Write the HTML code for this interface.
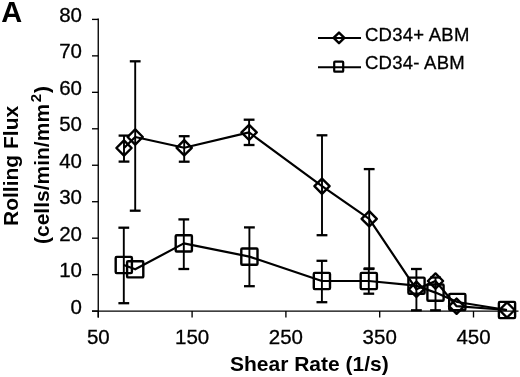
<!DOCTYPE html>
<html><head><meta charset="utf-8">
<style>
html,body{margin:0;padding:0;background:#fff;}
body{width:520px;height:377px;overflow:hidden;}
svg{display:block;will-change:transform;}
text{font-family:"Liberation Sans",sans-serif;fill:#000;}
.yl,.xl,.lg{stroke:#000;stroke-width:0.3px;}
.yl{font-size:20.5px;text-anchor:end;}
.xl{font-size:20.5px;text-anchor:middle;}
.lg{font-size:18.5px;letter-spacing:0.25px;}
.tt{font-size:21px;font-weight:bold;}
.sup{font-size:15px;}
.l2{letter-spacing:0.2px;}
.A{font-size:29px;font-weight:bold;}
</style></head>
<body>
<svg width="520" height="377" viewBox="0 0 520 377">
<rect width="520" height="377" fill="#fff"/>
<line x1="98.25" y1="18.599999999999998" x2="98.25" y2="317.5" stroke="#000" stroke-width="1.35"/>
<line x1="92" y1="311.1" x2="518.5" y2="311.1" stroke="#000" stroke-width="1.45"/>
<line x1="92" y1="311.10" x2="98.25" y2="311.10" stroke="#000" stroke-width="1.35"/>
<text x="82" y="313.50" class="yl">0</text>
<line x1="92" y1="274.64" x2="98.25" y2="274.64" stroke="#000" stroke-width="1.35"/>
<text x="82" y="277.04" class="yl">10</text>
<line x1="92" y1="238.18" x2="98.25" y2="238.18" stroke="#000" stroke-width="1.35"/>
<text x="82" y="240.58" class="yl">20</text>
<line x1="92" y1="201.71" x2="98.25" y2="201.71" stroke="#000" stroke-width="1.35"/>
<text x="82" y="204.11" class="yl">30</text>
<line x1="92" y1="165.25" x2="98.25" y2="165.25" stroke="#000" stroke-width="1.35"/>
<text x="82" y="167.65" class="yl">40</text>
<line x1="92" y1="128.79" x2="98.25" y2="128.79" stroke="#000" stroke-width="1.35"/>
<text x="82" y="131.19" class="yl">50</text>
<line x1="92" y1="92.32" x2="98.25" y2="92.32" stroke="#000" stroke-width="1.35"/>
<text x="82" y="94.72" class="yl">60</text>
<line x1="92" y1="55.86" x2="98.25" y2="55.86" stroke="#000" stroke-width="1.35"/>
<text x="82" y="58.26" class="yl">70</text>
<line x1="92" y1="19.40" x2="98.25" y2="19.40" stroke="#000" stroke-width="1.35"/>
<text x="82" y="21.80" class="yl">80</text>
<line x1="98.30" y1="311.1" x2="98.30" y2="317.5" stroke="#000" stroke-width="1.35"/>
<text x="98.30" y="344.3" class="xl">50</text>
<line x1="192.10" y1="311.1" x2="192.10" y2="317.5" stroke="#000" stroke-width="1.35"/>
<text x="192.10" y="344.3" class="xl">150</text>
<line x1="285.90" y1="311.1" x2="285.90" y2="317.5" stroke="#000" stroke-width="1.35"/>
<text x="285.90" y="344.3" class="xl">250</text>
<line x1="379.70" y1="311.1" x2="379.70" y2="317.5" stroke="#000" stroke-width="1.35"/>
<text x="379.70" y="344.3" class="xl">350</text>
<line x1="473.50" y1="311.1" x2="473.50" y2="317.5" stroke="#000" stroke-width="1.35"/>
<text x="473.50" y="344.3" class="xl">450</text>
<line x1="124.0" y1="135.6" x2="124.0" y2="161.6" stroke="#000" stroke-width="1.9"/>
<line x1="118.6" y1="135.6" x2="129.4" y2="135.6" stroke="#000" stroke-width="2.3"/>
<line x1="118.6" y1="161.6" x2="129.4" y2="161.6" stroke="#000" stroke-width="2.3"/>
<line x1="135.2" y1="61.3" x2="135.2" y2="210.7" stroke="#000" stroke-width="1.9"/>
<line x1="129.79999999999998" y1="61.3" x2="140.6" y2="61.3" stroke="#000" stroke-width="2.3"/>
<line x1="129.79999999999998" y1="210.7" x2="140.6" y2="210.7" stroke="#000" stroke-width="2.3"/>
<line x1="184.2" y1="136.2" x2="184.2" y2="161.7" stroke="#000" stroke-width="1.9"/>
<line x1="178.79999999999998" y1="136.2" x2="189.6" y2="136.2" stroke="#000" stroke-width="2.3"/>
<line x1="178.79999999999998" y1="161.7" x2="189.6" y2="161.7" stroke="#000" stroke-width="2.3"/>
<line x1="249.1" y1="119.7" x2="249.1" y2="145.0" stroke="#000" stroke-width="1.9"/>
<line x1="243.7" y1="119.7" x2="254.5" y2="119.7" stroke="#000" stroke-width="2.3"/>
<line x1="243.7" y1="145.0" x2="254.5" y2="145.0" stroke="#000" stroke-width="2.3"/>
<line x1="322.0" y1="135.3" x2="322.0" y2="235.2" stroke="#000" stroke-width="1.9"/>
<line x1="316.6" y1="135.3" x2="327.4" y2="135.3" stroke="#000" stroke-width="2.3"/>
<line x1="316.6" y1="235.2" x2="327.4" y2="235.2" stroke="#000" stroke-width="2.3"/>
<line x1="369.2" y1="169.1" x2="369.2" y2="268.5" stroke="#000" stroke-width="1.9"/>
<line x1="363.8" y1="169.1" x2="374.59999999999997" y2="169.1" stroke="#000" stroke-width="2.3"/>
<line x1="363.8" y1="268.5" x2="374.59999999999997" y2="268.5" stroke="#000" stroke-width="2.3"/>
<line x1="416.4" y1="269.0" x2="416.4" y2="310.3" stroke="#000" stroke-width="1.9"/>
<line x1="411.0" y1="269.0" x2="421.79999999999995" y2="269.0" stroke="#000" stroke-width="2.3"/>
<line x1="411.0" y1="310.3" x2="421.79999999999995" y2="310.3" stroke="#000" stroke-width="2.3"/>
<line x1="123.8" y1="227.7" x2="123.8" y2="303.2" stroke="#000" stroke-width="1.9"/>
<line x1="118.39999999999999" y1="227.7" x2="129.2" y2="227.7" stroke="#000" stroke-width="2.3"/>
<line x1="118.39999999999999" y1="303.2" x2="129.2" y2="303.2" stroke="#000" stroke-width="2.3"/>
<line x1="183.8" y1="219.4" x2="183.8" y2="269.0" stroke="#000" stroke-width="1.9"/>
<line x1="178.4" y1="219.4" x2="189.20000000000002" y2="219.4" stroke="#000" stroke-width="2.3"/>
<line x1="178.4" y1="269.0" x2="189.20000000000002" y2="269.0" stroke="#000" stroke-width="2.3"/>
<line x1="249.4" y1="227.4" x2="249.4" y2="286.2" stroke="#000" stroke-width="1.9"/>
<line x1="244.0" y1="227.4" x2="254.8" y2="227.4" stroke="#000" stroke-width="2.3"/>
<line x1="244.0" y1="286.2" x2="254.8" y2="286.2" stroke="#000" stroke-width="2.3"/>
<line x1="321.9" y1="260.8" x2="321.9" y2="302.2" stroke="#000" stroke-width="1.9"/>
<line x1="316.5" y1="260.8" x2="327.29999999999995" y2="260.8" stroke="#000" stroke-width="2.3"/>
<line x1="316.5" y1="302.2" x2="327.29999999999995" y2="302.2" stroke="#000" stroke-width="2.3"/>
<line x1="368.8" y1="269.0" x2="368.8" y2="293.7" stroke="#000" stroke-width="1.9"/>
<line x1="363.40000000000003" y1="269.0" x2="374.2" y2="269.0" stroke="#000" stroke-width="2.3"/>
<line x1="363.40000000000003" y1="293.7" x2="374.2" y2="293.7" stroke="#000" stroke-width="2.3"/>
<line x1="435.5" y1="277.5" x2="435.5" y2="310.3" stroke="#000" stroke-width="1.9"/>
<line x1="430.1" y1="277.5" x2="440.9" y2="277.5" stroke="#000" stroke-width="2.3"/>
<line x1="430.1" y1="310.3" x2="440.9" y2="310.3" stroke="#000" stroke-width="2.3"/>
<polyline points="124.0,148.0 135.2,137.0 184.2,147.8 249.1,132.4 322.0,186.2 369.2,218.8 416.4,289.3 435.5,281.0 456.6,306.2 507.0,310.0" fill="none" stroke="#000" stroke-width="2.2" stroke-linejoin="round"/>
<polyline points="123.8,265.0 135.2,269.3 183.8,243.4 249.4,256.6 321.9,281.0 368.8,281.0 416.5,285.7 435.5,292.6 457.3,302.0 507.0,310.0" fill="none" stroke="#000" stroke-width="2.2" stroke-linejoin="round"/>
<polygon points="116.4,148.0 124.0,140.4 131.6,148.0 124.0,155.6" fill="none" stroke="#000" stroke-width="2.4" stroke-linejoin="round"/>
<polygon points="127.6,137.0 135.2,129.4 142.79999999999998,137.0 135.2,144.6" fill="none" stroke="#000" stroke-width="2.4" stroke-linejoin="round"/>
<polygon points="176.6,147.8 184.2,140.20000000000002 191.79999999999998,147.8 184.2,155.4" fill="none" stroke="#000" stroke-width="2.4" stroke-linejoin="round"/>
<polygon points="241.5,132.4 249.1,124.80000000000001 256.7,132.4 249.1,140.0" fill="none" stroke="#000" stroke-width="2.4" stroke-linejoin="round"/>
<polygon points="314.4,186.2 322.0,178.6 329.6,186.2 322.0,193.79999999999998" fill="none" stroke="#000" stroke-width="2.4" stroke-linejoin="round"/>
<polygon points="361.59999999999997,218.8 369.2,211.20000000000002 376.8,218.8 369.2,226.4" fill="none" stroke="#000" stroke-width="2.4" stroke-linejoin="round"/>
<polygon points="408.79999999999995,289.3 416.4,281.7 424.0,289.3 416.4,296.90000000000003" fill="none" stroke="#000" stroke-width="2.4" stroke-linejoin="round"/>
<polygon points="427.9,281.0 435.5,273.4 443.1,281.0 435.5,288.6" fill="none" stroke="#000" stroke-width="2.4" stroke-linejoin="round"/>
<polygon points="449.0,306.2 456.6,298.59999999999997 464.20000000000005,306.2 456.6,313.8" fill="none" stroke="#000" stroke-width="2.4" stroke-linejoin="round"/>
<polygon points="499.4,310.0 507.0,302.4 514.6,310.0 507.0,317.6" fill="none" stroke="#000" stroke-width="2.4" stroke-linejoin="round"/>
<rect x="115.7" y="256.9" width="16.2" height="16.2" fill="none" stroke="#000" stroke-width="2.4" rx="1"/>
<rect x="127.1" y="261.2" width="16.2" height="16.2" fill="none" stroke="#000" stroke-width="2.4" rx="1"/>
<rect x="175.70000000000002" y="235.3" width="16.2" height="16.2" fill="none" stroke="#000" stroke-width="2.4" rx="1"/>
<rect x="241.3" y="248.50000000000003" width="16.2" height="16.2" fill="none" stroke="#000" stroke-width="2.4" rx="1"/>
<rect x="313.79999999999995" y="272.9" width="16.2" height="16.2" fill="none" stroke="#000" stroke-width="2.4" rx="1"/>
<rect x="360.7" y="272.9" width="16.2" height="16.2" fill="none" stroke="#000" stroke-width="2.4" rx="1"/>
<rect x="408.4" y="277.59999999999997" width="16.2" height="16.2" fill="none" stroke="#000" stroke-width="2.4" rx="1"/>
<rect x="427.4" y="284.5" width="16.2" height="16.2" fill="none" stroke="#000" stroke-width="2.4" rx="1"/>
<rect x="449.2" y="293.9" width="16.2" height="16.2" fill="none" stroke="#000" stroke-width="2.4" rx="1"/>
<rect x="498.9" y="301.9" width="16.2" height="16.2" fill="none" stroke="#000" stroke-width="2.4" rx="1"/>
<line x1="318" y1="37.9" x2="361" y2="37.9" stroke="#000" stroke-width="2"/>
<polygon points="333.6,37.9 339,32.6 344.4,37.9 339,43.2" fill="none" stroke="#000" stroke-width="2.4" stroke-linejoin="round"/>
<line x1="318" y1="67.2" x2="361" y2="67.2" stroke="#000" stroke-width="2"/>
<rect x="334.2" y="61.7" width="9" height="10" fill="none" stroke="#000" stroke-width="2.2" rx="0.8"/>
<text x="365" y="40.6" class="lg">CD34+ ABM</text>
<text x="365" y="69.3" class="lg">CD34- ABM</text>
<text x="1.3" y="22.2" class="A">A</text>
<text x="230" y="370.5" class="tt">Shear Rate (1/s)</text>
<text transform="translate(17.7,226) rotate(-90)" x="0" y="0" class="tt">Rolling Flux</text>
<text transform="translate(48.7,244) rotate(-90)" x="0" y="0" class="tt">(cells/min/mm<tspan class="sup" dx="1.8" dy="-8">2</tspan><tspan dx="0.8" dy="8">)</tspan></text>
</svg>
</body></html>
